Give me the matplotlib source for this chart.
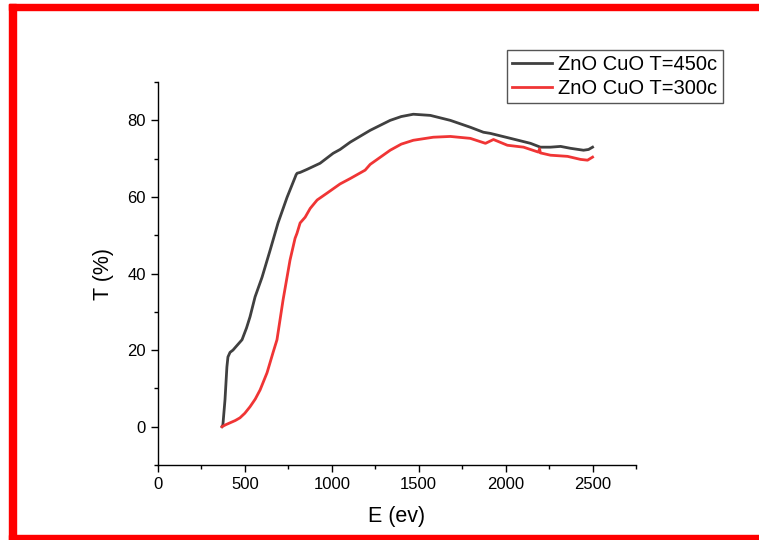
import matplotlib
matplotlib.use("Agg")
import matplotlib.pyplot as plt
from matplotlib.patches import Rectangle
from matplotlib.ticker import MultipleLocator

plt.rcParams['font.family'] = ['Liberation Sans', 'DejaVu Sans']

# transmittance spectra
e_450 = [369, 374, 386, 397, 403, 415, 432, 455, 484, 510, 530, 559, 599, 645, 691, 743, 789,
         795, 801, 818, 858, 933, 1008, 1048, 1106, 1221, 1336, 1400, 1469, 1567, 1682, 1797,
         1872, 1912, 2028, 2143, 2200, 2258, 2316, 2373, 2448, 2477, 2500]
t_450 = [0, 0.5, 7, 15.6, 18.2, 19.4, 20, 21.2, 22.7, 25.8, 28.7, 33.9, 39, 46, 53.2, 59.9,
         65.1, 65.8, 66.2, 66.4, 67.2, 68.8, 71.4, 72.4, 74.3, 77.4, 80, 81, 81.6, 81.3, 80,
         78.2, 76.9, 76.6, 75.3, 74, 73, 73, 73.2, 72.7, 72.2, 72.4, 73]

e_300 = [369, 390, 415, 445, 472, 500, 530, 560, 588, 628, 662, 685, 720, 760, 789, 800, 818,
         847, 876, 916, 973, 1048, 1106, 1192, 1221, 1336, 1400, 1469, 1584, 1682, 1797, 1884,
         1930, 2010, 2103, 2189, 2195, 2200, 2258, 2356, 2431, 2471, 2500]
t_300 = [0, 0.5, 1, 1.6, 2.3, 3.5, 5.2, 7.2, 9.6, 14.1, 19.3, 22.7, 33.1, 43.5, 49.2, 50.5,
         53.2, 54.7, 57, 59.2, 61, 63.4, 64.8, 67, 68.5, 72.2, 73.8, 74.8, 75.6, 75.8, 75.3,
         74, 75, 73.5, 73, 71.7, 72.6, 71.5, 70.9, 70.6, 69.8, 69.6, 70.4]

labels = ["ZnO CuO T=450c", "ZnO CuO T=300c"]

fig = plt.figure(figsize=(7.59, 5.40), dpi=100)
ax = fig.add_axes([0.208, 0.139, 0.630, 0.709])

ax.plot(e_450, t_450, color='#404040', lw=2, label=labels[0])
ax.plot(e_300, t_300, color='#f03535', lw=2, label=labels[1])

ax.set_xlim(0, 2750)
ax.set_ylim(-10, 90)
ax.xaxis.set_major_locator(MultipleLocator(500))
ax.xaxis.set_minor_locator(MultipleLocator(250))
ax.yaxis.set_major_locator(MultipleLocator(20))
ax.yaxis.set_minor_locator(MultipleLocator(10))
ax.tick_params(which='major', direction='out', length=5, width=1, labelsize=12)
ax.tick_params(which='minor', direction='out', length=3, width=1)
for side in ('top', 'right'):
    ax.spines[side].set_visible(False)
for side in ('left', 'bottom'):
    ax.spines[side].set_linewidth(1)

ax.set_xlabel("E (ev)", fontsize=15.5, labelpad=10)
ax.set_ylabel("T (%)", fontsize=15.5, labelpad=10)

leg = ax.legend(loc='upper right', bbox_to_anchor=(0.952, 0.908),
                bbox_transform=fig.transFigure, fontsize=14.5, frameon=True,
                fancybox=False, edgecolor='#555555', framealpha=1,
                handlelength=2.0, handletextpad=0.3, borderpad=0.25,
                labelspacing=0.25, borderaxespad=0)
leg.get_frame().set_linewidth(1)

# red frame around the figure
red = '#ff0000'
fig.patches.append(Rectangle((9 / 759, 0), 7 / 759, 1 - 4 / 540,
                             transform=fig.transFigure, color=red, zorder=0))
fig.patches.append(Rectangle((9 / 759, 1 - 10 / 540), 1, 6 / 540,
                             transform=fig.transFigure, color=red, zorder=0))
fig.patches.append(Rectangle((9 / 759, 0), 1, 5 / 540,
                             transform=fig.transFigure, color=red, zorder=0))

fig.savefig("out.png", dpi=100)
